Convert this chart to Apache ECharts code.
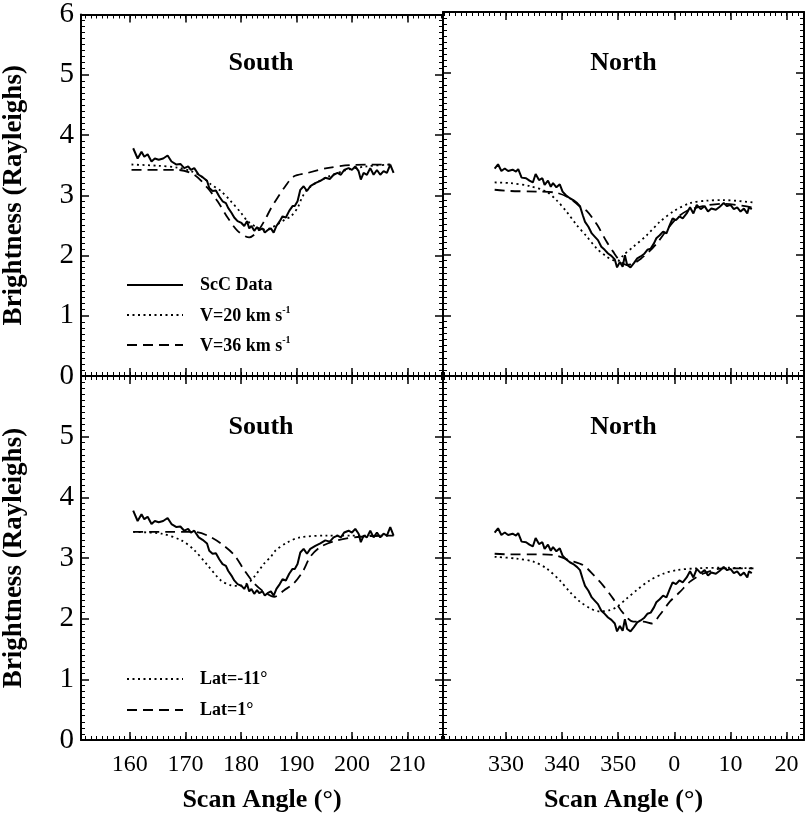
<!DOCTYPE html>
<html><head><meta charset="utf-8">
<script src="https://cdn.jsdelivr.net/npm/echarts@6/dist/echarts.min.js"></script>
<style>html,body{margin:0;padding:0;background:#fff}#c{width:805px;height:814px}</style>
</head><body><div id="c"></div>
<script>
// ---------- DATA ----------
const southTicks = [160, 170, 180, 190, 200, 210];
const southTickLabels = ['160', '170', '180', '190', '200', '210'];
const northTicks = [330, 340, 350, 360, 370, 380];
const northTickLabels = ['330', '340', '350', '0', '10', '20'];
const yTicks = [0, 1, 2, 3, 4, 5, 6];

// ScC data, south scan
const scSouthAngle = [160.6,161.4,162.1,162.6,163.2,163.9,164.5,165.2,166.0,166.8,167.5,168.4,169.1,169.8,170.5,171.0,171.6,172.4,173.1,173.9,174.3,174.9,175.5,176.1,176.7,177.3,177.7,178.3,178.8,179.4,180.1,180.6,181.1,181.5,181.9,182.4,182.9,183.3,183.9,184.3,184.8,185.4,185.9,186.4,187.0,187.5,188.1,188.7,189.3,189.7,190.2,190.7,191.3,191.9,192.5,193.4,194.3,195.2,196.0,196.7,197.4,198.0,198.6,199.4,200.0,200.6,201.2,201.6,202.1,202.7,203.3,203.9,204.5,205.1,205.7,206.3,206.9,207.5];
const scSouthBright = [3.78,3.61,3.72,3.64,3.68,3.56,3.61,3.59,3.61,3.66,3.56,3.51,3.52,3.45,3.48,3.42,3.45,3.34,3.30,3.24,3.12,3.07,3.08,2.98,2.90,2.87,2.79,2.71,2.63,2.57,2.54,2.49,2.57,2.45,2.49,2.41,2.47,2.42,2.45,2.38,2.42,2.45,2.38,2.49,2.57,2.65,2.63,2.74,2.82,2.82,2.90,3.09,3.15,3.07,3.15,3.20,3.24,3.29,3.27,3.34,3.37,3.34,3.42,3.45,3.42,3.48,3.40,3.26,3.37,3.34,3.45,3.34,3.42,3.34,3.40,3.37,3.51,3.37];

// ScC data, north scan (angles past 360 continue as 360+)
const scNorthAngle = [328.0,328.6,329.2,329.8,330.4,331.2,331.8,332.2,332.8,333.6,334.2,334.8,335.3,335.9,336.5,336.9,337.5,338.0,338.4,339.0,339.6,340.1,340.7,341.4,342.0,342.7,343.2,343.7,344.1,344.7,345.3,345.9,346.4,347.0,347.6,348.2,348.8,349.4,349.8,350.3,350.8,351.2,351.6,352.2,352.8,353.4,354.0,354.6,355.2,355.8,356.4,356.8,357.4,358.0,358.6,359.2,359.7,360.3,360.9,361.5,362.2,362.8,363.4,364.0,364.7,365.4,366.0,366.6,367.4,368.1,368.8,369.4,370.0,370.6,371.2,371.8,372.4,373.0,373.3,373.8];
const scNorthBright = [3.42,3.49,3.38,3.42,3.38,3.40,3.37,3.41,3.27,3.26,3.22,3.19,3.33,3.23,3.26,3.15,3.22,3.12,3.18,3.11,3.16,3.04,2.98,2.93,2.90,2.85,2.80,2.65,2.54,2.46,2.35,2.29,2.24,2.13,2.08,2.02,1.98,1.92,1.79,1.88,1.80,1.99,1.83,1.79,1.86,1.94,1.97,2.01,2.08,2.10,2.19,2.27,2.32,2.38,2.35,2.49,2.60,2.57,2.63,2.60,2.68,2.78,2.68,2.82,2.75,2.80,2.71,2.76,2.74,2.79,2.85,2.80,2.82,2.75,2.78,2.71,2.76,2.68,2.78,2.75];

// Models, south, velocity
const v20SouthAngle = [160.3,165.0,168.5,171.0,172.8,174.6,176.4,178.2,180.0,181.2,183.0,184.3,185.5,186.6,188.0,189.0,190.2,191.0,191.9,193.1,195.5,199.1,202.7,206.9];
const v20SouthBright = [3.51,3.49,3.46,3.40,3.32,3.18,3.07,2.90,2.71,2.57,2.46,2.43,2.46,2.52,2.60,2.65,2.79,2.96,3.09,3.18,3.30,3.42,3.48,3.51];
const v36SouthAngle = [160.3,165.0,168.7,171.6,174.0,175.8,177.6,179.4,181.5,183.0,184.2,185.4,186.6,188.0,189.5,192.0,195.5,199.7,206.9];
const v36SouthBright = [3.42,3.42,3.42,3.34,3.12,2.90,2.63,2.41,2.30,2.40,2.57,2.78,2.96,3.15,3.31,3.37,3.45,3.50,3.51];

// Models, north, velocity
const v20NorthAngle = [328.0,330.7,334.3,337.2,339.0,340.8,342.6,344.4,346.2,347.9,349.1,350.0,350.9,352.7,355.1,357.4,359.8,362.8,365.8,368.7,374.1];
const v20NorthBright = [3.19,3.18,3.13,3.04,2.90,2.71,2.49,2.30,2.10,1.97,1.91,1.90,1.99,2.13,2.32,2.54,2.71,2.85,2.89,2.90,2.86];
const v36NorthAngle = [328.0,330.7,335.5,339.0,341.4,343.2,344.4,346.2,347.9,349.1,350.3,351.5,352.7,354.0,355.5,357.0,358.6,360.4,362.2,365.1,368.7,373.8];
const v36NorthBright = [3.07,3.05,3.04,3.02,2.93,2.79,2.72,2.50,2.22,2.05,1.90,1.83,1.85,1.93,2.05,2.20,2.40,2.60,2.72,2.80,2.84,2.78];

// Models, south, latitude
const latM11SouthAngle = [160.6,165.7,169.3,171.6,174.0,176.4,178.2,179.4,181.2,182.4,184.2,185.4,186.2,188.4,190.7,195.5,200.0,206.9];
const latM11SouthBright = [3.43,3.40,3.29,3.13,2.88,2.63,2.55,2.54,2.58,2.69,2.91,3.02,3.12,3.26,3.34,3.37,3.37,3.37];
const lat1SouthAngle = [160.6,167.5,171.6,174.0,176.4,178.8,180.6,182.4,184.2,186.0,187.8,189.5,191.1,192.5,194.3,197.3,201.5,207.5];
const lat1SouthBright = [3.43,3.43,3.43,3.37,3.24,3.05,2.80,2.58,2.44,2.36,2.47,2.58,2.77,3.02,3.18,3.29,3.35,3.37];

// Models, north, latitude
const latM11NorthAngle = [328.0,331.9,334.9,337.2,339.6,341.4,343.2,345.0,346.7,348.5,349.7,351.5,353.3,355.6,358.0,360.4,364.0,368.7,374.1];
const latM11NorthBright = [3.02,2.99,2.94,2.83,2.63,2.44,2.28,2.17,2.12,2.14,2.19,2.33,2.47,2.63,2.74,2.80,2.83,2.84,2.83];
const lat1NorthAngle = [328.0,330.7,335.5,338.4,341.4,343.8,345.6,347.3,349.1,350.9,352.7,354.5,356.0,357.4,359.2,361.0,362.8,365.1,368.7,374.1];
const lat1NorthBright = [3.07,3.06,3.06,3.05,2.96,2.88,2.72,2.55,2.33,2.09,1.95,1.95,1.92,2.06,2.28,2.44,2.61,2.74,2.83,2.83];

const panelTitles = ['South', 'North', 'South', 'North'];
const legendTop = ['ScC Data', 'V=20 km s', 'V=36 km s'];
const legendBottom = ['Lat=-11°', 'Lat=1°'];
const yAxisTitle = 'Brightness (Rayleighs)';
const xAxisTitle = 'Scan Angle (°)';

// ---------- CHART ----------
const FONT = '"Liberation Serif", "Times New Roman", Times, serif';
const zip = (a, b) => a.map((v, i) => [v, b[i]]);
const chart = echarts.init(document.getElementById('c'), null, { renderer: 'canvas' });

const grids = [
  { left: 79, top: 12, width: 364, height: 364 },
  { left: 443, top: 12, width: 361, height: 364 },
  { left: 79, top: 376, width: 364, height: 364 },
  { left: 443, top: 376, width: 361, height: 364 }
];
const xRanges = [[151.2, 216.4], [318.8, 383.1], [151.2, 216.4], [318.8, 383.1]];
const majors = [southTicks, northTicks, southTicks, northTicks];
const majorLabels = [southTickLabels, northTickLabels, southTickLabels, northTickLabels];

const LINE = { show: true, lineStyle: { color: '#000', width: 2 } };
const xAxis = [];
const yAxis = [];
grids.forEach((g, gi) => {
  const [mn, mx] = xRanges[gi];
  const minors = [];
  for (let v = Math.ceil(mn); v <= Math.floor(mx); v++) minors.push(v);
  const isBottom = gi >= 2;
  ['bottom', 'top'].forEach(pos => {
    const showLab = isBottom && pos === 'bottom';
    xAxis.push({
      type: 'value', gridIndex: gi, position: pos, min: mn, max: mx,
      axisLine: LINE, splitLine: { show: false },
      axisTick: { show: true, inside: true, length: 8, customValues: majors[gi], lineStyle: { color: '#000', width: 1.5 } },
      axisLabel: showLab ? {
        show: true, customValues: majors[gi], margin: 13,
        formatter: v => { const i = majors[gi].indexOf(Math.round(v)); return i >= 0 ? majorLabels[gi][i] : ''; },
        fontFamily: FONT, fontSize: 24, color: '#000'
      } : { show: false },
      name: showLab ? xAxisTitle : '', nameLocation: 'middle', nameGap: 47,
      nameTextStyle: { fontFamily: FONT, fontSize: 26, fontWeight: 'bold', color: '#000' }
    });
    xAxis.push({
      type: 'value', gridIndex: gi, position: pos, min: mn, max: mx,
      axisLine: { show: false }, splitLine: { show: false },
      axisTick: { show: true, inside: true, length: 4, customValues: minors, lineStyle: { color: '#000', width: 1 } },
      axisLabel: { show: false }
    });
  });
  ['left', 'right'].forEach(pos => {
    const showLab = (gi === 0 || gi === 2) && pos === 'left';
    yAxis.push({
      type: 'value', gridIndex: gi, position: pos, min: 0, max: 6, interval: 1,
      axisLine: LINE, splitLine: { show: false },
      axisTick: { show: true, inside: true, length: 8, lineStyle: { color: '#000', width: 1.5 } },
      minorTick: { show: true, splitNumber: 10, length: 4, lineStyle: { color: '#000', width: 1 } },
      axisLabel: showLab ? {
        show: true, margin: 7, fontFamily: FONT, fontSize: 29, color: '#000',
        formatter: v => (gi === 2 && v === 6) ? '' : String(yTicks[yTicks.indexOf(v)])
      } : { show: false },
      name: showLab ? yAxisTitle : '', nameLocation: 'middle', nameGap: 53, nameRotate: 90,
      nameTextStyle: { fontFamily: FONT, fontSize: 27, fontWeight: 'bold', color: '#000' }
    });
  });
});

const DOT = [2, 3.5];
const DASH = [10, 6];
function ser(gi, data, type) {
  return {
    type: 'line', xAxisIndex: gi * 4, yAxisIndex: gi * 2, data,
    showSymbol: false, symbol: 'none', smooth: type === 'solid' ? false : 0.3,
    animation: false, silent: true,
    lineStyle: { color: '#000', width: type === 'solid' ? 2 : 1.8, type: type === 'solid' ? 'solid' : (type === 'dot' ? DOT : DASH) }
  };
}
const series = [
  ser(0, zip(scSouthAngle, scSouthBright), 'solid'),
  ser(0, zip(v20SouthAngle, v20SouthBright), 'dot'),
  ser(0, zip(v36SouthAngle, v36SouthBright), 'dash'),
  ser(1, zip(scNorthAngle, scNorthBright), 'solid'),
  ser(1, zip(v20NorthAngle, v20NorthBright), 'dot'),
  ser(1, zip(v36NorthAngle, v36NorthBright), 'dash'),
  ser(2, zip(scSouthAngle, scSouthBright), 'solid'),
  ser(2, zip(latM11SouthAngle, latM11SouthBright), 'dot'),
  ser(2, zip(lat1SouthAngle, lat1SouthBright), 'dash'),
  ser(3, zip(scNorthAngle, scNorthBright), 'solid'),
  ser(3, zip(latM11NorthAngle, latM11NorthBright), 'dot'),
  ser(3, zip(lat1NorthAngle, lat1NorthBright), 'dash')
];

const graphic = [];
// panel titles
grids.forEach((g, gi) => {
  graphic.push({
    type: 'text', x: g.left + g.width / 2, y: g.top + 51,
    style: { text: panelTitles[gi], font: 'bold 26px ' + FONT, fill: '#000', align: 'center', verticalAlign: 'middle' }
  });
});
// legends
const legStyle = { font: 'bold 18px ' + FONT, fill: '#000' };
function legLine(y, dash) {
  graphic.push({ type: 'line', shape: { x1: 127, y1: y, x2: 183, y2: y },
    style: { stroke: '#000', lineWidth: dash ? 1.8 : 2, lineDash: dash || null } });
}
const topRows = [285, 315, 345];
legLine(topRows[0], null);
legLine(topRows[1], DOT);
legLine(topRows[2], DASH);
graphic.push({ type: 'text', x: 200, y: topRows[0], style: Object.assign({ text: legendTop[0], verticalAlign: 'middle' }, legStyle) });
[1, 2].forEach(i => {
  graphic.push({ type: 'text', x: 200, y: topRows[i], style: {
    text: '{a|' + legendTop[i] + '}{b|-1}', verticalAlign: 'middle',
    rich: { a: { font: 'bold 18px ' + FONT, fill: '#000', verticalAlign: 'bottom', lineHeight: 20 },
            b: { font: 'bold 10px ' + FONT, fill: '#000', verticalAlign: 'top', lineHeight: 20 } } } });
});
const botRows = [679, 710];
legLine(botRows[0], DOT);
legLine(botRows[1], DASH);
botRows.forEach((y, i) => {
  graphic.push({ type: 'text', x: 200, y, style: Object.assign({ text: legendBottom[i], verticalAlign: 'middle' }, legStyle) });
});

chart.setOption({
  animation: false,
  backgroundColor: '#fff',
  grid: grids.map(g => Object.assign({ containLabel: false }, g)),
  xAxis, yAxis, series, graphic
});
</script>
</body></html>
